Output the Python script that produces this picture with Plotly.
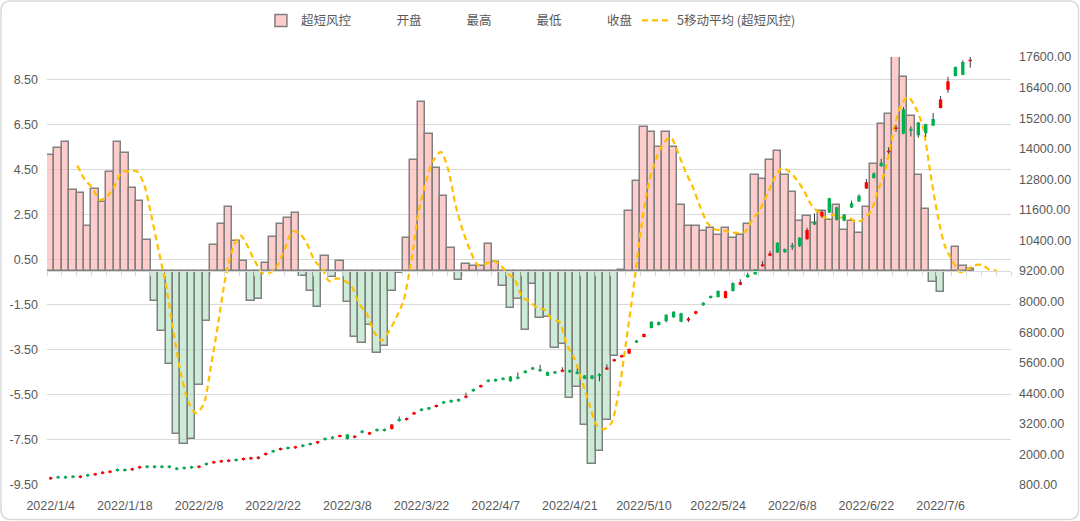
import plotly.graph_objects as go

dates = ["2022/1/4","2022/1/5","2022/1/6","2022/1/7","2022/1/10","2022/1/11","2022/1/12","2022/1/13","2022/1/14",
         "2022/1/17","2022/1/18","2022/1/19","2022/1/20","2022/1/21","2022/1/24","2022/1/25","2022/1/26","2022/1/27","2022/1/28",
         "2022/2/7","2022/2/8","2022/2/9","2022/2/10","2022/2/11","2022/2/14","2022/2/15","2022/2/16","2022/2/17","2022/2/18",
         "2022/2/21","2022/2/22","2022/2/23","2022/2/24","2022/2/25","2022/2/28",
         "2022/3/1","2022/3/2","2022/3/3","2022/3/4","2022/3/7","2022/3/8","2022/3/9","2022/3/10","2022/3/11","2022/3/14",
         "2022/3/15","2022/3/16","2022/3/17","2022/3/18","2022/3/21","2022/3/22","2022/3/23","2022/3/24","2022/3/25",
         "2022/3/28","2022/3/29","2022/3/30","2022/3/31",
         "2022/4/1","2022/4/6","2022/4/7","2022/4/8","2022/4/11","2022/4/12","2022/4/13","2022/4/14","2022/4/15","2022/4/18",
         "2022/4/19","2022/4/20","2022/4/21","2022/4/22","2022/4/25","2022/4/26","2022/4/27","2022/4/28","2022/4/29",
         "2022/5/5","2022/5/6","2022/5/9","2022/5/10","2022/5/11","2022/5/12","2022/5/13","2022/5/16","2022/5/17","2022/5/18",
         "2022/5/19","2022/5/20","2022/5/23","2022/5/24","2022/5/25","2022/5/26","2022/5/27","2022/5/30","2022/5/31",
         "2022/6/1","2022/6/2","2022/6/6","2022/6/7","2022/6/8","2022/6/9","2022/6/10","2022/6/13","2022/6/14","2022/6/15",
         "2022/6/16","2022/6/17","2022/6/20","2022/6/21","2022/6/22","2022/6/23","2022/6/24","2022/6/27","2022/6/28",
         "2022/6/29","2022/6/30",
         "2022/7/1","2022/7/4","2022/7/5","2022/7/6","2022/7/7","2022/7/8","2022/7/11","2022/7/12","2022/7/13","2022/7/14",
         "2022/7/15","2022/7/18","2022/7/19"]

risk = [5.17,5.46,5.74,3.59,3.48,2.01,3.63,3.06,4.38,5.74,5.23,3.69,3.11,1.39,-1.35,-2.66,-4.14,-7.23,-7.67,-7.46,
        -5.06,-2.21,1.17,2.09,2.83,1.33,0.43,-1.35,-1.25,0.34,1.49,2.09,2.35,2.56,-0.20,-0.88,-1.58,0.65,-0.27,0.45,
        -1.38,-2.91,-3.19,-2.39,-3.62,-3.34,-0.88,-0.08,1.46,4.93,7.51,6.09,4.56,3.34,1.02,-0.40,0.29,0.22,0.22,1.20,
        0.38,-0.68,-1.64,-1.24,-2.63,-0.58,-2.09,-2.02,-3.40,-3.23,-5.62,-5.13,-6.83,-8.58,-7.98,-6.60,-3.77,0.04,2.65,3.98,
        6.38,6.16,5.49,6.19,5.49,2.94,1.98,1.98,1.79,1.89,1.58,1.89,1.48,1.61,2.07,4.25,4.07,4.94,5.32,4.25,
        3.51,2.23,2.46,2.13,2.68,2.26,2.94,1.83,2.20,1.67,2.83,4.77,6.53,6.99,9.64,8.60,6.90,4.25,2.77,-0.51,
        -0.94,-0.06,1.06,0.22,0.07,None,None,None,None,None]

open_ = [1023,1142,1142,1165,1085,1220,1179,1242,1281,1428,1428,1375,1454,1557,1557,1557,1557,1479,1506,1534,
         1477,1663,1650,1689,1713,1820,1779,1807,1830,1975,2161,2171,2290,2238,2381,2447,2434,2643,2694,2681,
         2783,2653,2929,2787,2996,3000,2995,3388,3347,3571,3792,3847,3857,4082,4133,4172,4221,4564,4641,4929,
         4956,5007,5057,5046,5281,5415,5348,5233,5258,5241,5309,5242,5094,5094,5152,5335,5660,5817,5963,6473,
         6608,7204,7199,7478,7601,7539,7255,7520,7957,8221,8419,8145,8733,8657,9055,9251,9384,9803,10308,10060,
         10209,10507,10447,11115,11345,12051,11701,11419,11861,12149,12440,13030,13453,13863,14776,15549,14783,15033,14958,15171,
         15598,16315,17204,17408,17430]
high = [1123,1162,1162,1185,1185,1240,1279,1342,1381,1448,1448,1475,1554,1577,1577,1577,1577,1499,1526,1554,
        1577,1683,1750,1789,1813,1840,1879,1907,1930,2075,2181,2271,2310,2338,2401,2467,2534,2663,2714,2781,
        2803,2753,2949,2887,3016,3020,3195,3488,3447,3671,3812,3867,3957,4102,4153,4192,4421,4584,4741,4949,
        4976,5027,5077,5216,5301,5435,5518,5253,5278,5421,5329,5362,5114,5114,5192,5535,5760,5917,6163,6493,
        6748,7224,7219,7498,7621,7559,7395,7640,7977,8241,8439,8425,8753,8877,9135,9271,9594,9983,10328,10080,
        10309,10527,10897,11465,11585,12071,11721,11439,11961,12209,12810,13070,13603,14053,14936,15629,14883,15053,14978,15401,
        16068,16825,17224,17468,17690]
low = [1003,1042,1042,1065,1065,1120,1159,1222,1261,1328,1328,1355,1434,1457,1457,1457,1457,1379,1406,1434,
       1457,1563,1630,1669,1693,1720,1759,1787,1810,1955,2061,2151,2190,2218,2281,2347,2414,2543,2594,2661,
       2583,2633,2829,2767,2896,2900,2975,3288,3327,3551,3692,3747,3837,3982,4033,4072,4201,4464,4621,4829,
       4856,4907,4857,4946,5181,5315,5248,5073,5158,5221,5209,5142,4954,4954,4872,5315,5640,5797,5943,6373,
       6588,6944,7059,7178,7361,7189,7195,7500,7837,8121,8159,8125,8393,8637,8935,9051,9364,9783,9908,9920,
       10029,10147,10427,11005,11285,11481,11181,11149,11671,11909,12420,12830,13293,13793,14656,14569,14483,14433,14458,14891,
       15578,16195,16834,16888,17180]
close = [1103,1062,1062,1085,1165,1140,1259,1322,1361,1348,1348,1455,1534,1477,1477,1477,1477,1399,1426,1454,
         1557,1583,1730,1769,1793,1740,1859,1887,1910,2055,2081,2251,2210,2318,2301,2367,2514,2563,2614,2761,
         2603,2733,2849,2867,2916,2920,3175,3308,3427,3651,3712,3767,3937,4002,4053,4092,4301,4484,4721,4849,
         4876,4927,4877,4966,5201,5335,5268,5093,5178,5321,5229,5162,4974,4974,5072,5415,5740,5897,6143,6393,
         6728,6964,7079,7238,7381,7209,7335,7620,7857,8141,8179,8405,8413,8757,8955,9071,9464,9883,9928,9940,
         10129,10167,10807,11025,11525,11501,11201,11169,11691,11929,12680,12850,13313,13923,14836,14589,14703,14533,14608,14911,
         15928,16645,16854,16908,17490]

tick_labels = ["2022/1/4","2022/1/18","2022/2/8","2022/2/22","2022/3/8","2022/3/22","2022/4/7",
               "2022/4/21","2022/5/10","2022/5/24","2022/6/8","2022/6/22","2022/7/6"]
left_ticks = [-9.5,-7.5,-5.5,-3.5,-1.5,0.5,2.5,4.5,6.5,8.5]
right_ticks = [800,2000,3200,4400,5600,6800,8000,9200,10400,11600,12800,14000,15200,16400,17600]

n = len(dates)
xs = list(range(n))
nc = len(close)
tick_pos = [dates.index(t) for t in tick_labels]

# 5-period moving average of the bar series (blank cells counted as 0)
vals0 = [v if v is not None else 0.0 for v in risk]
ma_x, ma_y = [], []
for k in range(4, 129):
    ma_x.append(k - 0.4)
    ma_y.append(sum(vals0[k - 4:k + 1]) / 5.0)

GRAY = "#595959"
bar_fill = ["rgba(255,170,170,0.6)" if (v is not None and v >= 0) else "rgba(170,223,190,0.6)" for v in risk]

fig = go.Figure()
fig.add_trace(go.Bar(x=xs, y=risk, name="超短风控", marker=dict(color=bar_fill, line=dict(color="#808080", width=1.5)),
                     xaxis="x", yaxis="y"))
for nm in ["开盘", "最高", "最低", "收盘"]:
    fig.add_trace(go.Scatter(x=[None], y=[None], name=nm, mode="markers",
                             marker=dict(color="rgba(0,0,0,0)", size=1, line=dict(width=0, color="rgba(0,0,0,0)")),
                             xaxis="x", yaxis="y"))
fig.add_trace(go.Scatter(x=ma_x, y=ma_y, name="5移动平均 (超短风控)", mode="lines",
                         line=dict(color="#FFC000", width=2.25, dash="6px,4px", shape="spline", smoothing=0.8),
                         xaxis="x", yaxis="y"))
# high-low lines
fig.add_trace(go.Ohlc(x=xs[:nc], open=open_, high=high, low=low, close=close, tickwidth=0, showlegend=False,
                      increasing=dict(line=dict(color="#3a3a3a", width=1)),
                      decreasing=dict(line=dict(color="#3a3a3a", width=1)),
                      xaxis="x2", yaxis="y2", hoverinfo="skip"))
# up / down bodies
fig.add_trace(go.Candlestick(x=xs[:nc], open=open_, high=high, low=low, close=close, showlegend=False,
                             whiskerwidth=0,
                             increasing=dict(fillcolor="#FF0000", line=dict(color="#FF0000", width=0)),
                             decreasing=dict(fillcolor="#00B050", line=dict(color="#00B050", width=0)),
                             xaxis="x3", yaxis="y3"))

xr = [-0.5, n - 0.5]
yr2 = [800, 17600]
fig.update_layout(
    width=1080, height=521,
    margin=dict(l=47, r=69, t=57, b=36, autoexpand=False),
    paper_bgcolor="white", plot_bgcolor="white",
    bargap=0, boxgap=0.35,
    font=dict(family="Liberation Sans, Arial, sans-serif", size=12.5, color=GRAY),
    showlegend=True,
    legend=dict(orientation="h", x=0.502, xanchor="center", yref="container", y=0.96, yanchor="middle",
                font=dict(family="Noto Sans CJK SC", size=12.5, color=GRAY), bgcolor="rgba(0,0,0,0)",
                traceorder="normal"),
    xaxis=dict(range=xr, anchor="free", position=0.5, showgrid=False, zeroline=False,
               showline=True, linecolor="#d9d9d9", linewidth=1,
               ticks="outside", tickmode="linear", tick0=-0.5, dtick=2, ticklen=4, tickcolor="#d9d9d9",
               showticklabels=False, fixedrange=True, automargin=False),
    xaxis2=dict(range=xr, overlaying="x", anchor="y2", side="bottom", showgrid=False, zeroline=False,
                showline=False, ticks="", tickmode="array", tickvals=tick_pos, ticktext=tick_labels,
                ticklabelstandoff=11, rangeslider=dict(visible=False), tickfont=dict(size=12.5, color=GRAY),
                automargin=False),
    xaxis3=dict(range=xr, overlaying="x", anchor="y3", visible=False, rangeslider=dict(visible=False),
                automargin=False),
    yaxis=dict(range=[-9.5, 9.5], tickmode="array", tickvals=left_ticks, ticktext=["%.2f" % t for t in left_ticks],
               showgrid=True, gridcolor="#d9d9d9", gridwidth=1, zeroline=False, showline=False, ticks="",
               ticklabelstandoff=8, automargin=False),
    yaxis2=dict(range=yr2, overlaying="y", side="right", anchor="x2", tickmode="array", tickvals=right_ticks,
                ticktext=["%.2f" % t for t in right_ticks], showgrid=False, zeroline=False, showline=False,
                ticks="", ticklabelstandoff=7, automargin=False),
    yaxis3=dict(range=yr2, overlaying="y", anchor="x3", visible=False, automargin=False),
)

# rounded chart border
L, T, Wp, Hp = 47, 57, 1080 - 47 - 69, 521 - 57 - 36
def px(xp): return (xp - L) / Wp
def py(yp): return (T + Hp - yp) / Hp
x0, x1, y0, y1 = px(1), px(1078.5), py(519.5), py(1)
rx, ry = 10 / Wp, 10 / Hp
path = (f"M{x0+rx},{y1} L{x1-rx},{y1} Q{x1},{y1} {x1},{y1-ry} L{x1},{y0+ry} Q{x1},{y0} {x1-rx},{y0} "
        f"L{x0+rx},{y0} Q{x0},{y0} {x0},{y0+ry} L{x0},{y1-ry} Q{x0},{y1} {x0+rx},{y1} Z")
fig.add_shape(type="path", path=path, xref="paper", yref="paper", line=dict(color="#d9d9d9", width=1.5), layer="below")

fig.write_html("out.html")
